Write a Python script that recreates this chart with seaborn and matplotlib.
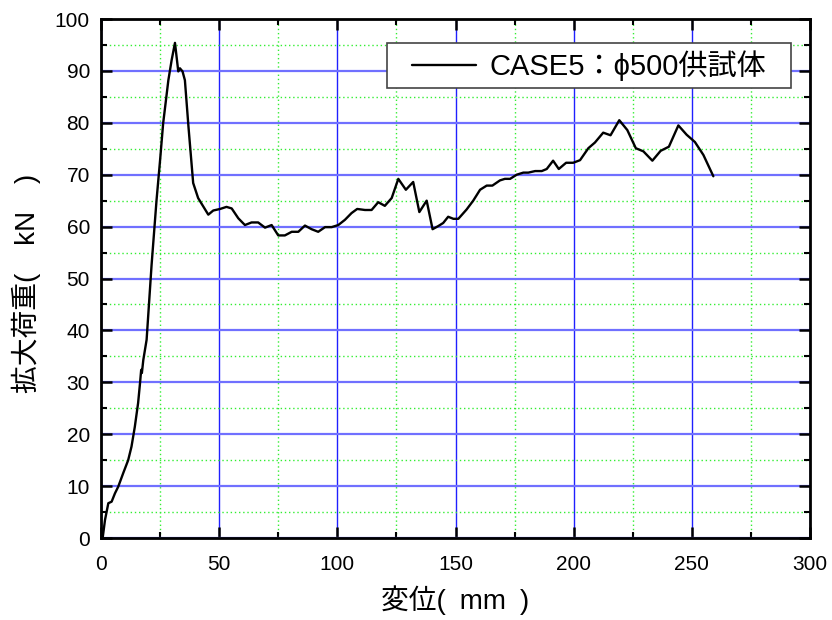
import matplotlib
matplotlib.use("Agg")
import matplotlib.pyplot as plt
import seaborn as sns
import pandas as pd
from matplotlib.path import Path
from matplotlib.ticker import MultipleLocator

# Load-displacement record for the CASE5 specimen
displacement = [0.0, 0.7, 1.7, 3.1, 4.5, 5.9, 7.3, 9.4, 11.5, 12.9, 14.3, 15.7,
                16.5, 17.0, 17.3, 17.9, 19.3, 21.4, 23.5, 25.0, 26.3, 28.5, 29.9,
                31.3, 32.7, 33.4, 34.5, 35.5, 37.0, 39.0, 41.1, 45.4, 47.5, 50.4,
                53.1, 55.3, 58.1, 60.9, 63.7, 66.5, 69.4, 72.2, 75.0, 77.8, 80.7,
                83.5, 86.3, 89.1, 91.9, 94.8, 97.6, 100.4, 103.2, 106.0, 108.4,
                111.7, 114.5, 117.3, 120.1, 123.0, 125.8, 129.0, 132.1, 134.7,
                137.8, 140.3, 142.7, 144.8, 146.9, 149.1, 151.2, 154.7, 157.5,
                160.4, 163.2, 165.6, 168.8, 170.9, 173.1, 175.9, 178.7, 180.8,
                183.7, 186.5, 188.6, 191.3, 193.7, 196.8, 199.8, 202.7, 206.2,
                209.0, 212.5, 215.6, 219.3, 222.7, 226.3, 229.5, 233.3, 236.8,
                240.3, 244.3, 247.8, 251.3, 254.9, 259.1]
load = [0.0, 0.0, 3.5, 6.7, 7.0, 8.6, 9.9, 12.5, 15.0, 17.6, 21.4, 26.0,
        29.8, 32.4, 31.8, 34.3, 38.2, 52.6, 65.1, 72.8, 79.9, 88.2, 92.1,
        95.4, 89.9, 90.5, 89.9, 88.2, 79.3, 68.4, 65.5, 62.3, 63.1, 63.4,
        63.8, 63.5, 61.6, 60.3, 60.8, 60.8, 59.8, 60.3, 58.3, 58.3, 59.0,
        59.0, 60.2, 59.5, 59.0, 59.9, 59.9, 60.3, 61.3, 62.6, 63.4,
        63.2, 63.2, 64.7, 64.0, 65.5, 69.2, 67.1, 68.6, 62.8,
        65.0, 59.5, 60.1, 60.7, 61.9, 61.5, 61.5, 63.3, 65.0,
        67.1, 67.9, 67.9, 68.9, 69.2, 69.2, 70.0, 70.4, 70.4,
        70.7, 70.7, 71.1, 72.7, 71.1, 72.3, 72.3, 72.8, 75.1,
        76.2, 78.1, 77.6, 80.5, 78.6, 75.1, 74.5, 72.7, 74.6,
        75.4, 79.5, 77.7, 76.3, 73.8, 69.7]

series_name = "CASE5：ϕ500供試体"
x_label = "変位(\u2002mm\u2002)"
y_label = "拡大荷重(\u2003kN\u2003)"

df = pd.DataFrame({"disp": displacement, "load": load, "case": series_name})

sns.set_theme(style="white")
plt.rcParams["font.family"] = ["Liberation Sans", "Noto Sans CJK JP", "DejaVu Sans"]
for key in ["text.color", "axes.labelcolor", "xtick.color", "ytick.color"]:
    plt.rcParams[key] = "black"

fig = plt.figure(figsize=(8.32, 6.2), dpi=100)
ax = fig.add_axes([101 / 832, 1 - 538 / 620, 709 / 832, 519 / 620])

sns.lineplot(data=df, x="disp", y="load", hue="case", palette=["black"],
             sort=False, estimator=None, linewidth=1.7, ax=ax, zorder=5)

ax.set_xlim(0, 300)
ax.set_ylim(0, 100)
ax.xaxis.set_major_locator(MultipleLocator(50))
ax.xaxis.set_minor_locator(MultipleLocator(25))
ax.yaxis.set_major_locator(MultipleLocator(10))
ax.yaxis.set_minor_locator(MultipleLocator(5))

# Grid: solid blue majors, dotted green minors
ax.grid(False)
ax.yaxis.grid(True, which="major", color="#7070ff", linewidth=1.6, linestyle="-")
ax.xaxis.grid(True, which="major", color="#2020ff", linewidth=1.0, linestyle="-")
ax.grid(True, which="minor", color="#33ee33", linewidth=1.0, linestyle=(0, (1, 2)))
ax.set_axisbelow(True)

for side in ["left", "right", "top", "bottom"]:
    ax.spines[side].set_visible(True)
    ax.spines[side].set_color("black")
    ax.spines[side].set_linewidth(2.0)
    ax.spines[side].set_zorder(6)

ax.tick_params(which="major", direction="in", length=8, width=1.8, color="black",
               top=True, right=True, bottom=True, left=True, labelsize=15,
               labelcolor="black")
ax.tick_params(which="minor", direction="in", length=4, width=1.5, color="black",
               top=True, right=True, bottom=True, left=True)
ax.tick_params(axis="x", which="major", pad=12)
ax.tick_params(axis="y", which="major", pad=8)

ax.set_xlabel(x_label, fontsize=20, labelpad=8, color="black")
ax.set_ylabel(y_label, fontsize=20, labelpad=8, color="black")
ax.yaxis.set_label_coords(-0.085, 0.49)


class WideBox:
    """Rectangular frame that keeps the full horizontal padding but trims
    the vertical padding by `inset` (in units of the legend font size)."""

    def __init__(self, inset):
        self.inset = inset

    def __call__(self, x0, y0, width, height, mutation_size):
        dy = self.inset * mutation_size
        verts = [(x0, y0 + dy), (x0 + width, y0 + dy),
                 (x0 + width, y0 + height - dy), (x0, y0 + height - dy),
                 (x0, y0 + dy)]
        return Path(verts, closed=True)


legend_fs = 21
borderpad = 0.85
inset = 0.6
inset_px = inset * legend_fs * 100 / 72
leg = ax.legend(loc="upper right",
                bbox_to_anchor=((791 - 101) / 709, 1 - (43 - 19 - inset_px) / 519),
                fontsize=legend_fs, frameon=True, fancybox=False, shadow=False,
                handlelength=2.2, handletextpad=0.45, borderpad=borderpad,
                borderaxespad=0.0)
frame = leg.get_frame()
frame.set_boxstyle(WideBox(inset))
frame.set_edgecolor("#444444")
frame.set_linewidth(1.2)
frame.set_alpha(1.0)
leg.set_zorder(10)

fig.savefig("out.png", dpi=100)
